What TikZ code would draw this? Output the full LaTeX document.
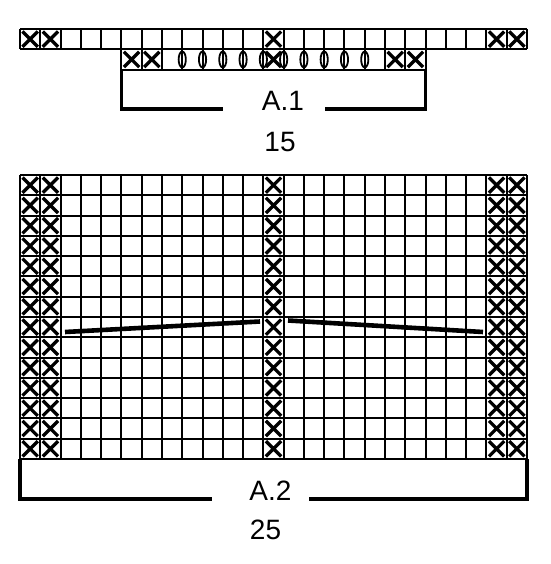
\documentclass[tikz,border=0pt]{standalone}
\usepackage{fontspec}
\setmainfont{Liberation Sans}
\usetikzlibrary{positioning}
\tikzset{grid line/.style={line width=2pt},
    cross/.style={line width=3.3pt},
    yarn over/.style={line width=1.8pt},
    bracket/.style={line width=3.4pt},
    short row/.style={line width=4.6pt},
    chart label/.style={
        font=\fontsize{28}{32}\selectfont,
        inner sep=0pt}}
\newcommand{\cw}{20.28}
% X in cell: column, top, height
\newcommand{\xcell}[3]{%
    \draw[cross] ({20+(#1-1)*\cw+2.5},{#2+2.5}) -- ({20+#1*\cw-2.5},{#2+#3-2.5})
                 ({20+(#1-1)*\cw+2.5},{#2+#3-2.5}) -- ({20+#1*\cw-2.5},{#2+2.5});}

\begin{document}
\begin{tikzpicture}[x=1pt,y=-1pt]
        \useasboundingbox (0,0) rectangle (550,564);
        % A.1
        \foreach \c in {1,2,13,24,25} \xcell{\c}{29}{20.3};
        \foreach \c in {6,7,13,19,20} \xcell{\c}{49.3}{20.3};
        \foreach \i in {0,...,25} \draw[grid line] ({20+\i*\cw},29) -- ({20+\i*\cw},49.3);
        \foreach \i in {5,...,20} \draw[grid line] ({20+\i*\cw},49.3) -- ({20+\i*\cw},69.6);
        \draw[grid line] (20,29) -- (527,29) (20,49.3) -- (527,49.3);
        \draw[grid line] ({20+5*\cw},69.6) -- ({20+20*\cw},69.6);
        \foreach \k in {8,...,17} \draw[yarn over] ({20+\k*\cw},59.5) ellipse [x radius=3.6, y radius=8];
        \coordinate (a1l) at ({20+5*\cw},69.6);
        \coordinate (a1r) at ({20+20*\cw},69.6);
        \draw[bracket] (a1l) -- ++(0,39.4) -- (223,109);
        \draw[bracket] (a1r) -- ++(0,39.4) -- (325,109);
        \node[chart label, anchor=base] (a1) at (283,111) {A.1};
        \node[chart label, below=21pt of a1, xshift=-3pt] (w1) {15};
        % A.2
        \foreach \r in {0,...,13}
            \foreach \c in {1,2,13,24,25} \xcell{\c}{175+\r*\cw}{\cw};
        \foreach \i in {0,...,25} \draw[grid line] ({20+\i*\cw},175) -- ({20+\i*\cw},459);
        \foreach \j in {0,...,14} \draw[grid line] (20,{175+\j*\cw}) -- (527,{175+\j*\cw});
        \draw[short row] (65,332) -- (260,321.5);
        \draw[short row] (288,320.5) -- (483,332);
        \coordinate (a2l) at (20,459);
        \coordinate (a2r) at (527,459);
        \draw[bracket] (a2l) -- ++(0,40) -- (212,499);
        \draw[bracket] (a2r) -- ++(0,40) -- (309,499);
        \node[chart label, anchor=base] (a2) at (270.5,500) {A.2};
        \node[chart label, below=20pt of a2, xshift=-5pt] (w2) {25};
    \end{tikzpicture}
\end{document}
